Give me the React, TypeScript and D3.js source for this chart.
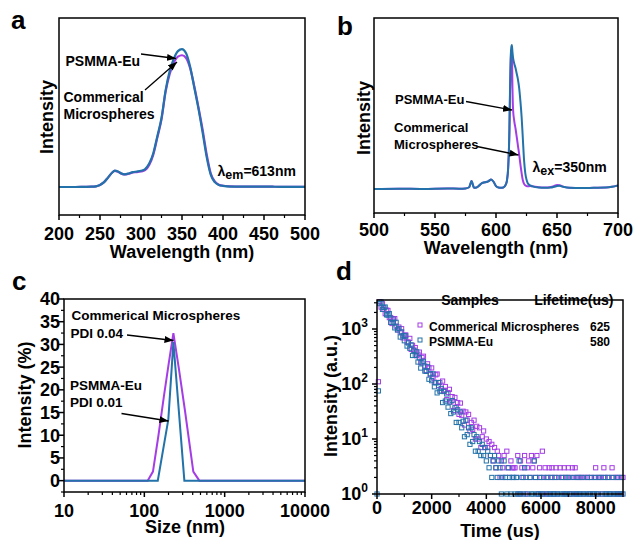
import React from 'react';
import * as d3 from 'd3';

// ---------- Panel a: excitation spectra (λem = 613 nm) ----------
const excWavelength = [200, 210, 220, 230, 240, 245, 250, 255, 260, 265, 268, 272, 276, 280, 285, 290, 295, 300, 305, 310, 315, 320, 325, 330, 335, 340, 345, 350, 355, 360, 365, 370, 375, 380, 385, 390, 395, 400, 410, 420, 440, 460, 480, 500];
const excPSMMA = [0, 0, 0, 0.001, 0.002, 0.005, 0.015, 0.035, 0.07, 0.105, 0.118, 0.112, 0.098, 0.092, 0.098, 0.108, 0.112, 0.118, 0.13, 0.17, 0.245, 0.37, 0.5, 0.7, 0.84, 0.93, 0.985, 1.0, 0.97, 0.87, 0.72, 0.57, 0.4, 0.22, 0.09, 0.035, 0.015, 0.008, 0.003, 0.002, 0.002, 0.002, 0.001, 0.001];
const excCommercial = [0, 0, 0, 0.001, 0.002, 0.005, 0.015, 0.035, 0.07, 0.105, 0.117, 0.11, 0.097, 0.091, 0.096, 0.105, 0.108, 0.112, 0.122, 0.16, 0.235, 0.36, 0.49, 0.69, 0.82, 0.9, 0.945, 0.955, 0.935, 0.86, 0.73, 0.58, 0.42, 0.24, 0.1, 0.04, 0.017, 0.009, 0.004, 0.002, 0.002, 0.002, 0.001, 0.001];
const excTicks = [200, 250, 300, 350, 400, 450, 500];
const excMinor = [225, 275, 325, 375, 425, 475];

// ---------- Panel b: emission spectra (λex = 350 nm) ----------
const emWavelength = [500, 520, 540, 560, 570, 575, 578, 579, 580, 581, 582, 584, 586, 588, 590, 592, 594, 596, 598, 600, 602, 604, 606, 608, 609, 610, 611, 611.5, 612, 612.5, 613, 613.5, 614, 615, 616, 617, 618, 619, 620, 621, 622, 623, 624, 625, 626, 628, 630, 635, 640, 645, 648, 650, 652, 655, 660, 670, 680, 690, 695, 700];
const emPSMMA = [0, 0.002, 0, 0.003, 0.002, 0.004, 0.012, 0.035, 0.055, 0.03, 0.008, 0.01, 0.022, 0.038, 0.045, 0.048, 0.055, 0.065, 0.05, 0.02, 0.01, 0.008, 0.01, 0.03, 0.06, 0.15, 0.42, 0.7, 0.9, 0.98, 1.0, 0.95, 0.91, 0.87, 0.84, 0.8, 0.76, 0.7, 0.61, 0.5, 0.35, 0.2, 0.11, 0.065, 0.04, 0.025, 0.018, 0.01, 0.008, 0.01, 0.016, 0.02, 0.022, 0.015, 0.008, 0.006, 0.008, 0.01, 0.015, 0.025];
const emCommercial = [0, 0.002, 0, 0.003, 0.002, 0.004, 0.012, 0.035, 0.055, 0.03, 0.008, 0.01, 0.022, 0.038, 0.045, 0.048, 0.055, 0.065, 0.05, 0.02, 0.01, 0.008, 0.01, 0.03, 0.06, 0.15, 0.4, 0.66, 0.86, 0.95, 0.97, 0.7, 0.55, 0.47, 0.42, 0.36, 0.3, 0.24, 0.17, 0.11, 0.06, 0.035, 0.025, 0.02, 0.018, 0.02, 0.018, 0.012, 0.01, 0.014, 0.022, 0.028, 0.026, 0.016, 0.008, 0.006, 0.008, 0.01, 0.015, 0.025];
const emTicks = [500, 550, 600, 650, 700];
const emMinor = [525, 575, 625, 675];

// ---------- Panel c: DLS size distribution ----------
const dlsSizeCommercial = [10, 110, 128, 150, 175, 200, 230, 270, 320, 407, 484, 10000];
const dlsCommercial = [0, 0, 2, 10, 18.5, 25.5, 32.5, 24.5, 15.5, 2, 0, 0];
const dlsSizePSMMA = [10, 147, 199, 230, 315, 10000];
const dlsPSMMA = [0, 0, 13.5, 30.5, 0, 0];
const dlsXTicks = [10, 100, 1000, 10000];
const dlsYTicks = [0, 5, 10, 15, 20, 25, 30, 35, 40];

// ---------- Panel d: luminescence decay (counts every 50 us) ----------
const decayStepUs = 50;
const decayCommercial = [
  0, 110, 3150, 2500, 2880, 2310, 1900, 2205, 2175, 1610,
  1620, 1260, 1530, 1545, 1130, 970, 1085, 880, 1015, 690,
  765, 780, 580, 580, 675, 425, 505, 412, 460, 327,
  348, 380, 245, 304, 320, 213, 176, 233, 197, 148,
  196, 134, 108, 147, 152, 94, 107, 75, 113, 77,
  90, 52, 70, 80, 47, 59, 33, 57, 38, 46,
  28, 45, 27, 32, 18, 31, 22, 28, 14, 20,
  15, 22, 10, 17, 10, 16, 7, 11, 14, 7,
  10, 7, 9, 5, 8, 4, 7, 3, 6, 5,
  2, 4, 3, 5, 2, 6, 3, 2, 4, 3,
  3, 3, 2, 5, 1, 4, 3, 2, 5, 1,
  3, 4, 2, 5, 3, 4, 2, 5, 1, 3,
  2, 6, 1, 3, 2, 1, 3, 2, 3, 1,
  2, 3, 1, 2, 3, 0, 2, 3, 1, 2,
  3, 1, 2, 3, 1, 3, 2, 1, 2, 0,
  2, 1, 2, 0, 2, 1, 2, 0, 1, 2,
  3, 1, 2, 0, 2, 1, 3, 2, 1, 2,
  1, 0, 3, 2, 1, 2, 1, 2, 0, 1, 2,
];
const decayPSMMA = [
  1, 75, 2900, 3090, 2270, 2470, 2510, 1810, 1795, 1905,
  1315, 1525, 1325, 1050, 1325, 960, 1025, 715, 885, 755,
  612, 750, 490, 556, 448, 515, 330, 410, 332, 385,
  251, 300, 195, 242, 259, 172, 170, 206, 122, 154,
  115, 153, 89, 105, 69, 106, 74, 83, 46, 73,
  49, 66, 38, 47, 29, 50, 31, 37, 20, 34,
  20, 31, 16, 21, 11, 22, 12, 16, 8, 16,
  9, 12, 6, 11, 6, 9, 5, 8, 5, 7,
  4, 6, 3, 5, 2, 4, 5, 3, 2, 4,
  3, 1, 2, 4, 2, 1, 3, 2, 1, 2,
  2, 1, 2, 1, 4, 1, 2, 1, 3, 2,
  1, 0, 2, 1, 1, 4, 2, 1, 1, 2,
  1, 1, 2, 0, 1, 2, 1, 1, 2, 1,
  1, 2, 1, 0, 1, 2, 1, 1, 2, 1,
  2, 1, 1, 0, 2, 1, 1, 2, 1, 1,
  2, 1, 0, 1, 2, 1, 1, 2, 1, 1,
  2, 1, 1, 2, 0, 1, 2, 1, 1, 2,
  1, 1, 2, 1, 0, 1, 2, 1, 1, 2, 1,
];
const decayXTicks = [0, 2000, 4000, 6000, 8000];
const decayXMinor = [1000, 3000, 5000, 7000, 9000];
const decayYTicks = [1, 10, 100, 1000];
const legendSamples = ['Commerical Microspheres', 'PSMMA-Eu'];
const legendLifetimes = ['625', '580'];

// ---------- styling ----------
const FONT = 'Arial, "Liberation Sans", Helvetica, sans-serif';
const PURPLE = '#a43de6';
const BLUE = '#2372a9';
const AX = 1.5;

type XAxisProps = { scale: (v: number) => number; y: number; majors: number[]; minors: number[]; labels: React.ReactNode[]; labelY: number; fontSize?: number };
function XAxis({ scale, y, majors, minors, labels, labelY, fontSize = 18 }: XAxisProps) {
  return (
    <g>
      {majors.map((v, i) => (
        <line key={'M' + i} x1={scale(v)} x2={scale(v)} y1={y} y2={y + 5} stroke="#000" strokeWidth={AX} />
      ))}
      {minors.map((v, i) => (
        <line key={'m' + i} x1={scale(v)} x2={scale(v)} y1={y} y2={y + 3} stroke="#000" strokeWidth={1.2} />
      ))}
      {majors.map((v, i) => (
        <text key={'L' + i} x={scale(v)} y={labelY} textAnchor="middle" fontSize={fontSize} fontWeight="bold" fontFamily={FONT}>
          {labels[i]}
        </text>
      ))}
    </g>
  );
}

type YAxisProps = { scale: (v: number) => number; x: number; majors: number[]; minors: number[]; labels: React.ReactNode[]; labelX: number; fontSize?: number };
function YAxis({ scale, x, majors, minors, labels, labelX, fontSize = 18 }: YAxisProps) {
  return (
    <g>
      {majors.map((v, i) => (
        <line key={'M' + i} x1={x - 5} x2={x} y1={scale(v)} y2={scale(v)} stroke="#000" strokeWidth={AX} />
      ))}
      {minors.map((v, i) => (
        <line key={'m' + i} x1={x - 3} x2={x} y1={scale(v)} y2={scale(v)} stroke="#000" strokeWidth={1.2} />
      ))}
      {majors.map((v, i) => (
        <text key={'L' + i} x={labelX} y={scale(v)} dy="0.36em" textAnchor="end" fontSize={fontSize} fontWeight="bold" fontFamily={FONT}>
          {labels[i]}
        </text>
      ))}
    </g>
  );
}

function Frame({ x0, x1, y0, y1 }: { x0: number; x1: number; y0: number; y1: number }) {
  return <rect x={x0} y={y0} width={x1 - x0} height={y1 - y0} fill="none" stroke="#000" strokeWidth={AX} />;
}

function Arrow({ x1, y1, x2, y2 }: { x1: number; y1: number; x2: number; y2: number }) {
  return <line x1={x1} y1={y1} x2={x2} y2={y2} stroke="#000" strokeWidth={1.3} markerEnd="url(#arrowHead)" />;
}

function T({ x, y, size, children, anchor = 'start' }: { x: number; y: number; size: number; children: React.ReactNode; anchor?: string }) {
  return (
    <text x={x} y={y} fontSize={size} fontWeight="bold" fontFamily={FONT} textAnchor={anchor as any}>
      {children}
    </text>
  );
}

export default function App() {
  // Panel a scales
  const xA = d3.scaleLinear().domain([200, 500]).range([59, 305]);
  const yA = d3.scaleLinear().domain([-0.203, 1.225]).range([215, 18]);
  const lineA = (vals: number[]) =>
    d3.line<number>().x((_, i) => xA(excWavelength[i])).y((d) => yA(d)).curve(d3.curveMonotoneX)(vals) || '';

  // Panel b scales
  const xB = d3.scaleLinear().domain([500, 700]).range([374, 618]);
  const yB = d3.scaleLinear().domain([-0.167, 1.1875]).range([213, 18]);
  const lineB = (vals: number[]) =>
    d3.line<number>().x((_, i) => xB(emWavelength[i])).y((d) => yB(d)).curve(d3.curveMonotoneX)(vals) || '';

  // Panel c scales
  const xC = d3.scaleLog().domain([10, 10000]).range([64, 305]);
  const yC = d3.scaleLinear().domain([-2.5, 40]).range([492, 299]);
  const lineC = (sizes: number[], vals: number[]) =>
    d3.line<number>().x((_, i) => xC(sizes[i])).y((d) => yC(d))(vals) || '';
  const xCMinor = xC.ticks().filter((v) => !dlsXTicks.includes(v));
  const yCMinor = dlsYTicks.slice(0, -1).map((v) => v + 2.5).concat([-2.5]);

  // Panel d scales
  const xD = d3.scaleLinear().domain([0, 9000]).range([377, 623]);
  const yD = d3.scaleLog().domain([1, 3370]).range([494, 300]);
  const yDMinor = yD.ticks().filter((v) => !decayYTicks.includes(v));

  const squares = (vals: number[], color: string) =>
    vals.map((v, i) =>
      v > 0 && v <= 3370 ? (
        <rect key={i} x={xD(i * decayStepUs) - 2.1} y={yD(v) - 2.1} width={4.2} height={4.2} fill="none" stroke={color} strokeWidth={1} />
      ) : null
    );

  return (
    <svg width={637} height={540} style={{ position: 'absolute', left: 0, top: 0, background: '#fff' }}>
      <defs>
        <marker id="arrowHead" markerUnits="userSpaceOnUse" markerWidth={10} markerHeight={8} refX={9} refY={4} orient="auto">
          <path d="M0,0.5 L9,4 L0,7.5 Z" fill="#000" />
        </marker>
      </defs>
      <rect x={0} y={0} width={637} height={540} fill="#fff" />

      {/* ---------------- Panel a ---------------- */}
      <T x={11} y={29} size={26}>a</T>
      <path d={lineA(excCommercial)} fill="none" stroke={PURPLE} strokeWidth={2.2} />
      <path d={lineA(excPSMMA)} fill="none" stroke={BLUE} strokeWidth={2.2} />
      <Frame x0={59} x1={305} y0={18} y1={215} />
      <XAxis scale={xA} y={215} majors={excTicks} minors={excMinor} labels={excTicks.map(String)} labelY={239.5} />
      <T x={182} y={257.5} size={18} anchor="middle">Wavelength (nm)</T>
      <text transform="translate(52.5,117) rotate(-90)" textAnchor="middle" fontSize={18} fontWeight="bold" fontFamily={FONT}>Intensity</text>
      <T x={65.5} y={65.5} size={14}>PSMMA-Eu</T>
      <T x={63.5} y={101.5} size={14}>Commerical</T>
      <T x={63.5} y={118.5} size={14}>Microspheres</T>
      <Arrow x1={141} y1={54} x2={176} y2={58.5} />
      <Arrow x1={145} y1={90} x2={177} y2={62} />
      <text x={217.5} y={175.5} fontSize={14} fontWeight="bold" fontFamily={FONT}>
        λ<tspan fontSize={12.5} dy={3}>em</tspan><tspan fontSize={14} dy={-3}>=613nm</tspan>
      </text>

      {/* ---------------- Panel b ---------------- */}
      <T x={337} y={35} size={26}>b</T>
      <path d={lineB(emCommercial)} fill="none" stroke={PURPLE} strokeWidth={2} />
      <path d={lineB(emPSMMA)} fill="none" stroke={BLUE} strokeWidth={2} />
      <Frame x0={374} x1={618} y0={18} y1={213} />
      <XAxis scale={xB} y={213} majors={emTicks} minors={emMinor} labels={emTicks.map(String)} labelY={235.5} />
      <T x={496} y={253.5} size={18} anchor="middle">Wavelength (nm)</T>
      <text transform="translate(369.5,118) rotate(-90)" textAnchor="middle" fontSize={18} fontWeight="bold" fontFamily={FONT}>Intensity</text>
      <T x={395} y={104} size={13}>PSMMA-Eu</T>
      <T x={394} y={132.3} size={13}>Commerical</T>
      <T x={394} y={149} size={13}>Microspheres</T>
      <Arrow x1={466} y1={101.5} x2={512} y2={110} />
      <Arrow x1={477} y1={146.5} x2={518.5} y2={155} />
      <text x={532.5} y={171.5} fontSize={14} fontWeight="bold" fontFamily={FONT}>
        λ<tspan fontSize={12.5} dy={3}>ex</tspan><tspan fontSize={14} dy={-3}>=350nm</tspan>
      </text>

      {/* ---------------- Panel c ---------------- */}
      <T x={12} y={290} size={26}>c</T>
      <path d={lineC(dlsSizeCommercial, dlsCommercial)} fill="none" stroke={PURPLE} strokeWidth={2} />
      <path d={lineC(dlsSizePSMMA, dlsPSMMA)} fill="none" stroke={BLUE} strokeWidth={2} />
      <Frame x0={64} x1={305} y0={299} y1={492} />
      <XAxis scale={xC} y={492} majors={dlsXTicks} minors={xCMinor} labels={dlsXTicks.map(String)} labelY={516.5} />
      <YAxis scale={yC} x={64} majors={dlsYTicks} minors={yCMinor} labels={dlsYTicks.map(String)} labelX={60} />
      <T x={185} y={532.5} size={18} anchor="middle">Size (nm)</T>
      <text transform="translate(31,395) rotate(-90)" textAnchor="middle" fontSize={18} fontWeight="bold" fontFamily={FONT}>Intensity (%)</text>
      <T x={71.5} y={320} size={13.5}>Commerical Microspheres</T>
      <T x={70.5} y={337.7} size={13.5}>PDI 0.04</T>
      <T x={70} y={390} size={13.5}>PSMMA-Eu</T>
      <T x={70} y={406.7} size={13.5}>PDI 0.01</T>
      <Arrow x1={127} y1={335} x2={173.5} y2={340.5} />
      <Arrow x1={121.5} y1={413.5} x2={168.5} y2={421} />

      {/* ---------------- Panel d ---------------- */}
      <T x={336} y={280} size={26}>d</T>
      {squares(decayCommercial, PURPLE)}
      {squares(decayPSMMA, BLUE)}
      <Frame x0={377} x1={623} y0={300} y1={494} />
      <XAxis scale={xD} y={494} majors={decayXTicks} minors={decayXMinor} labels={decayXTicks.map(String)} labelY={514} />
      <YAxis
        scale={yD}
        x={377}
        majors={decayYTicks}
        minors={yDMinor}
        labels={decayYTicks.map((v) => (
          <>
            10<tspan fontSize={12} dy={-8}>{String(Math.round(Math.log10(v)))}</tspan>
          </>
        ))}
        labelX={368}
      />
      <T x={500} y={537} size={18} anchor="middle">Time (us)</T>
      <text transform="translate(337,396) rotate(-90)" textAnchor="middle" fontSize={18} fontWeight="bold" fontFamily={FONT}>Intensity (a.u.)</text>
      {/* legend */}
      <T x={470} y={305} size={14} anchor="middle">Samples</T>
      <T x={613.5} y={305} size={14} anchor="end">Lifetime(us)</T>
      {legendSamples.map((s, i) => (
        <g key={s}>
          <rect x={418} y={325 + i * 15 - 2} width={4} height={4} fill="none" stroke={i === 0 ? PURPLE : BLUE} strokeWidth={1} />
          <T x={429} y={331 + i * 15} size={12}>{s}</T>
          <T x={610} y={331 + i * 15} size={12} anchor="end">{legendLifetimes[i]}</T>
        </g>
      ))}
    </svg>
  );
}
